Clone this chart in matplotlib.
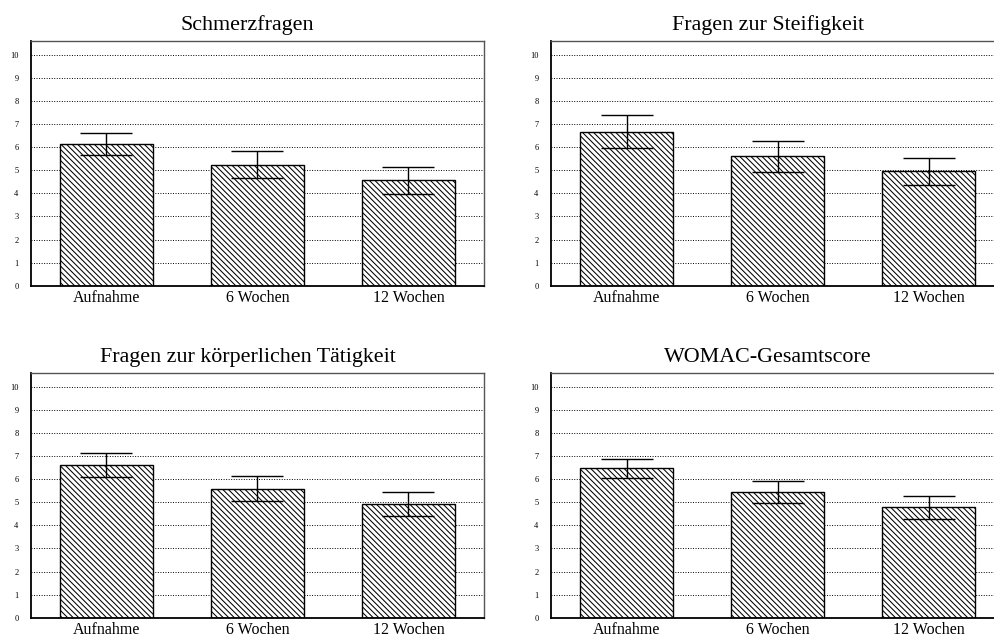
import matplotlib
matplotlib.use("Agg")
import matplotlib.pyplot as plt

plt.rcParams['font.family'] = ['Liberation Serif', 'DejaVu Serif']
plt.rcParams['hatch.linewidth'] = 0.75

categories = ["Aufnahme", "6 Wochen", "12 Wochen"]
yticks = list(range(0, 11))

titles = ["Schmerzfragen", "Fragen zur Steifigkeit",
          "Fragen zur körperlichen Tätigkeit", "WOMAC-Gesamtscore"]

pain_mean = [6.14, 5.25, 4.57]
pain_err = [0.49, 0.58, 0.58]

stiff_mean = [6.68, 5.61, 4.96]
stiff_err = [0.70, 0.67, 0.58]

phys_mean = [6.60, 5.59, 4.92]
phys_err = [0.52, 0.55, 0.53]

total_mean = [6.47, 5.46, 4.79]
total_err = [0.43, 0.48, 0.50]

panels = [
    (titles[0], pain_mean, pain_err),
    (titles[1], stiff_mean, stiff_err),
    (titles[2], phys_mean, phys_err),
    (titles[3], total_mean, total_err),
]

W, H = 994, 637
fig = plt.figure(figsize=(W / 100, H / 100), dpi=100)
fig.patch.set_facecolor("white")

# axes boxes in pixels: (left, top)
boxes = [(31, 40.7), (551, 40.7), (31, 372.7), (551, 372.7)]
ax_w, ax_h = 453, 245

for (title, means, errs), (lx, ty) in zip(panels, boxes):
    ax = fig.add_axes([lx / W, (H - ty - ax_h) / H, ax_w / W, ax_h / H])
    x = list(range(len(categories)))
    ax.set_axisbelow(True)
    ax.yaxis.grid(True, color="black", linestyle=(0, (1, 1.6)), linewidth=0.7)
    ax.bar(x, means, width=0.62, color="white", edgecolor="black",
           linewidth=1.0, hatch="\\" * 6, zorder=2)
    ax.errorbar(x, means, yerr=errs, fmt="none", ecolor="black",
                elinewidth=1.0, capsize=19, capthick=1.0, zorder=3)
    ax.set_xlim(-0.5, 2.5)
    ax.set_ylim(0, 10.62)
    ax.set_yticks(yticks)
    ax.set_yticklabels([str(t) for t in yticks], fontsize=6)
    ax.set_xticks(x)
    ax.set_xticklabels(categories, fontsize=11.5)
    ax.tick_params(axis="both", length=0)
    ax.tick_params(axis="y", pad=9)
    ax.tick_params(axis="x", pad=3)
    for side in ["left", "bottom"]:
        ax.spines[side].set_linewidth(1.3)
        ax.spines[side].set_color("black")
    for side in ["top", "right"]:
        ax.spines[side].set_linewidth(1.0)
        ax.spines[side].set_color("#555555")
    # title centred slightly left of the axes centre
    cx = (lx + ax_w / 2 - 10) / W
    fig.text(cx, (H - (ty - 15.5)) / H, title, ha="center", va="center",
             fontsize=15.8)

fig.savefig("out.png", dpi=100, facecolor="white")
